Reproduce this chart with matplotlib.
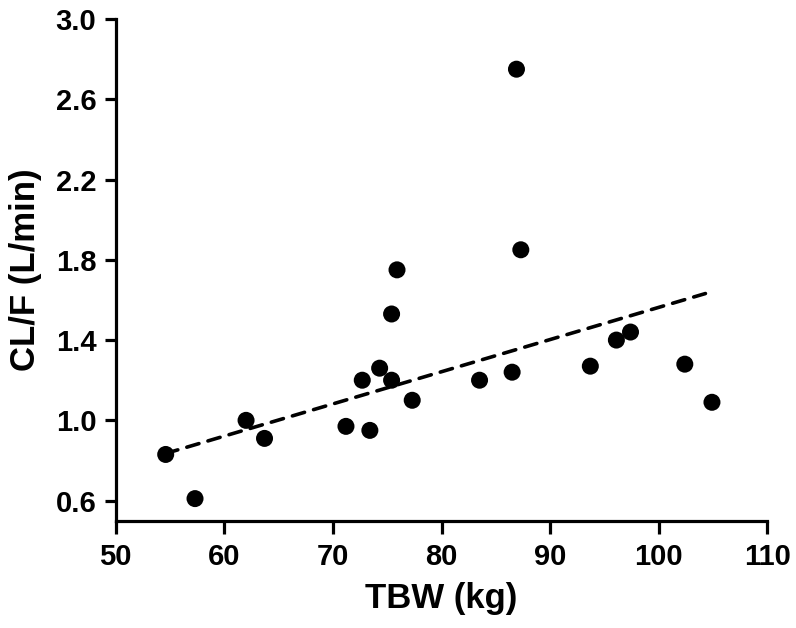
import numpy as np
import matplotlib
matplotlib.use("Agg")
import matplotlib.pyplot as plt

# data
tbw = [54.6, 57.3, 62.0, 63.7, 71.2, 72.7, 73.4, 74.3, 75.4, 75.4, 75.9,
       77.3, 83.5, 86.5, 86.9, 87.3, 93.7, 96.1, 97.4, 102.4, 104.9]
clf = [0.83, 0.61, 1.00, 0.91, 0.97, 1.20, 0.95, 1.26, 1.20, 1.53, 1.75,
       1.10, 1.20, 1.24, 2.75, 1.85, 1.27, 1.40, 1.44, 1.28, 1.09]

# regression line (endpoints)
fit_x = [54.6, 104.3]
fit_y = [0.835, 1.632]

xticks = [50, 60, 70, 80, 90, 100, 110]
yticks = [0.6, 1.0, 1.4, 1.8, 2.2, 2.6, 3.0]

plt.rcParams["font.family"] = ["Liberation Sans", "DejaVu Sans"]
plt.rcParams["font.weight"] = "bold"

fig = plt.figure(figsize=(7.96, 6.28), dpi=100)
ax = fig.add_axes([0.1454, 0.1709, 0.8186, 0.7988])

ax.plot(fit_x, fit_y, color="black", lw=2.6, ls=(0, (3.5, 2.6)),
        dash_capstyle="round", zorder=2)
ax.scatter(tbw, clf, s=150, color="black", edgecolors="none", zorder=3)

ax.set_xlim(50, 110)
ax.set_ylim(0.5, 3.0)
ax.set_xticks(xticks)
ax.set_yticks(yticks)
ax.set_yticklabels([f"{v:.1f}" for v in yticks])

for s in ["top", "right"]:
    ax.spines[s].set_visible(False)
for s in ["left", "bottom"]:
    ax.spines[s].set_linewidth(2.3)

ax.tick_params(axis="x", width=2.3, length=9, labelsize=21, pad=7)
ax.tick_params(axis="y", width=2.3, length=8, labelsize=21, pad=6)
for lab in ax.get_xticklabels() + ax.get_yticklabels():
    lab.set_fontweight("bold")

ax.set_xlabel("TBW (kg)", fontsize=25, fontweight="bold", labelpad=8)
ax.set_ylabel("CL/F (L/min)", fontsize=25, fontweight="bold", labelpad=10)

fig.savefig("out.png", dpi=100)
